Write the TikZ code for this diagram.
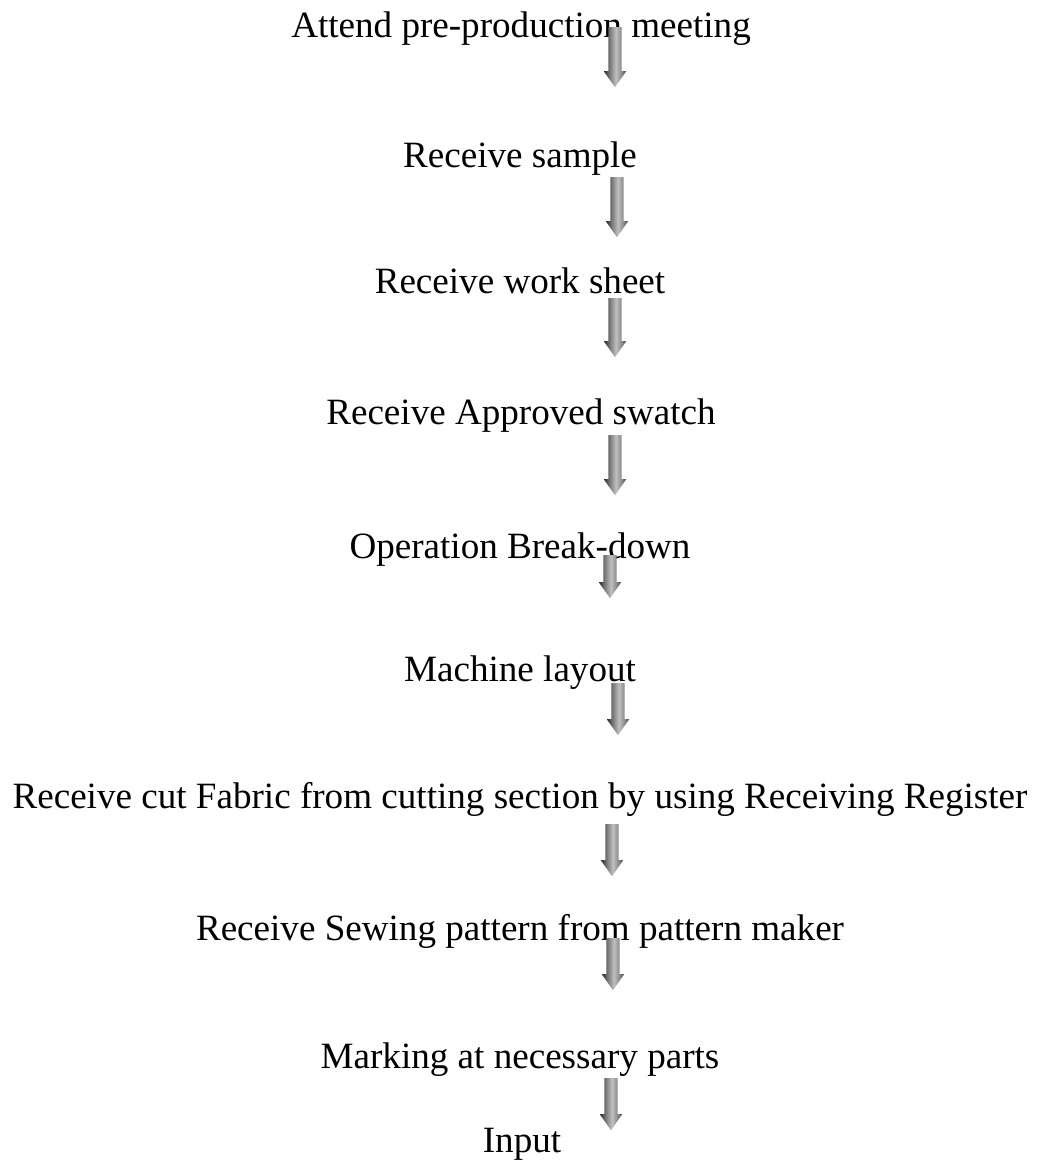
\documentclass[tikz,border=0pt]{standalone}
\usepackage{fontspec}
\setmainfont{Liberation Serif}
\usetikzlibrary{shapes.arrows}
\pgfdeclarehorizontalshading{arrowshade}{100bp}{color(0bp)=(black!85); color(25bp)=(black!85); color(37bp)=(black!55); color(52bp)=(black!25); color(64bp)=(black!45); color(75bp)=(black!72); color(100bp)=(black!72)}
\begin{document}
\begin{tikzpicture}[x=1pt, y=-1pt]
  \tikzstyle{stage} = [anchor=base, inner sep=0pt, font=\fontsize{37.1pt}{44pt}\selectfont];
  \tikzstyle{down_arrow} = [single arrow, shape border rotate=270, anchor=tail,
    inner sep=6.5pt, minimum width=22pt, single arrow head extend=4.5pt,
    single arrow tip angle=70, draw=none, shade, shading=arrowshade, shading angle=0];

  \useasboundingbox (0, 0) rectangle (1039, 1160);

  \node[stage] (s1)  at (521, 37)   {Attend pre-production meeting};
  \node[stage] (s2)  at (520, 167)  {Receive sample};
  \node[stage] (s3)  at (520, 293)  {Receive work sheet};
  \node[stage] (s4)  at (521, 424)  {Receive Approved swatch};
  \node[stage] (s5)  at (520, 558)  {Operation Break-down};
  \node[stage] (s6)  at (520, 681)  {Machine layout};
  \node[stage] (s7)  at (520, 808)  {Receive cut Fabric from cutting section by using Receiving Register};
  \node[stage] (s8)  at (520, 940)  {Receive Sewing pattern from pattern maker};
  \node[stage] (s9)  at (520, 1068) {Marking at necessary parts};
  \node[stage] (s10) at (522, 1152) {Input};

  \node[down_arrow, minimum height=60pt] (a1) at (615, 27)   {};
  \node[down_arrow, minimum height=60pt] (a2) at (617, 177)  {};
  \node[down_arrow, minimum height=59pt] (a3) at (615, 298)  {};
  \node[down_arrow, minimum height=60pt] (a4) at (615, 435)  {};
  \node[down_arrow, minimum height=43pt] (a5) at (610, 555)  {};
  \node[down_arrow, minimum height=52pt] (a6) at (618, 683)  {};
  \node[down_arrow, minimum height=52pt] (a7) at (612, 824)  {};
  \node[down_arrow, minimum height=52pt] (a8) at (613, 938)  {};
  \node[down_arrow, minimum height=52pt] (a9) at (611, 1078) {};
\end{tikzpicture}
\end{document}
